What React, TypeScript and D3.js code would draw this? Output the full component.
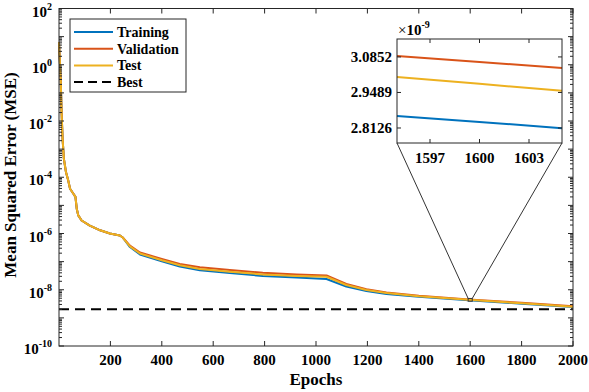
import React from 'react';
import * as d3 from 'd3';

// training record
const epochs = [0, 7, 10, 14, 19, 27, 36, 43, 56, 64, 69, 75, 88, 120, 160, 198, 237, 248, 276, 315, 400, 470, 548, 665, 793, 925, 1041, 1118, 1196, 1274, 1400, 1594, 1800, 2000];
const trainMse = [6.3, 0.24, 0.021, 2.3e-3, 4.5e-4, 1.55e-4, 7.6e-5, 3.9e-5, 2.6e-5, 2.0e-5, 7.6e-6, 4.4e-6, 2.9e-6, 1.9e-6, 1.3e-6, 1.0e-6, 8.5e-7, 7.2e-7, 3.3e-7, 1.8e-7, 1.02e-7, 6.7e-8, 4.9e-8, 3.9e-8, 3.1e-8, 2.7e-8, 2.4e-8, 1.3e-8, 9.0e-9, 7.1e-9, 5.6e-9, 4.2e-9, 3.2e-9, 2.45e-9];
const validMse = [6.3, 0.24, 0.021, 2.3e-3, 4.5e-4, 1.55e-4, 7.6e-5, 3.9e-5, 2.6e-5, 2.0e-5, 7.6e-6, 4.4e-6, 2.9e-6, 1.9e-6, 1.3e-6, 1.0e-6, 8.5e-7, 7.2e-7, 3.7e-7, 2.1e-7, 1.25e-7, 8.3e-8, 6.3e-8, 5.0e-8, 4.0e-8, 3.5e-8, 3.2e-8, 1.6e-8, 1.05e-8, 8.0e-9, 6.1e-9, 4.5e-9, 3.45e-9, 2.6e-9];
const testMse = [6.3, 0.24, 0.021, 2.3e-3, 4.5e-4, 1.55e-4, 7.6e-5, 3.9e-5, 2.6e-5, 2.0e-5, 7.6e-6, 4.4e-6, 2.9e-6, 1.9e-6, 1.3e-6, 1.0e-6, 8.5e-7, 7.2e-7, 3.5e-7, 1.95e-7, 1.12e-7, 7.4e-8, 5.5e-8, 4.4e-8, 3.5e-8, 3.1e-8, 2.9e-8, 1.48e-8, 9.8e-9, 7.6e-9, 5.9e-9, 4.4e-9, 3.3e-9, 2.5e-9];
const bestMse = 2.04e-9;

const xTicks = [200, 400, 600, 800, 1000, 1200, 1400, 1600, 1800, 2000];
const yLabelExps = [2, 0, -2, -4, -6, -8, -10];

// zoomed inset around epoch 1600
const insetEpochs = [1595, 1600, 1605];
const insetTrain = [2.859e-9, 2.836e-9, 2.812e-9];
const insetValid = [3.089e-9, 3.066e-9, 3.043e-9];
const insetTest = [3.008e-9, 2.982e-9, 2.955e-9];
const insetXTicks = [1597, 1600, 1603];
const insetYTicks = [2.8126e-9, 2.9489e-9, 3.0852e-9];
const insetXDomain = [1595, 1605];
const insetYDomain = [2.755e-9, 3.154e-9];
const markEpochs = [1592, 1608];
const markMse = [3.9e-9, 4.9e-9];

const series = [
  { name: 'Training', values: trainMse, inset: insetTrain, color: '#0072BD' },
  { name: 'Validation', values: validMse, inset: insetValid, color: '#D95319' },
  { name: 'Test', values: testMse, inset: insetTest, color: '#EDB120' },
];

const FONT = "'Liberation Serif', 'Times New Roman', serif";
const AX = '#262626';

export default function App() {
  const W = 589, H = 392;
  const m = { left: 59, right: 573, top: 8.5, bottom: 346 };

  const x = d3.scaleLinear().domain([0, 2000]).range([m.left, m.right]);
  const y = d3.scaleLog().domain([1e-10, 1e2]).range([m.bottom, m.top]);

  const line = d3.line<number>()
    .x((_, i) => x(epochs[i]))
    .y(d => y(d));

  // log minor ticks
  const minor: number[] = [];
  for (let e = -10; e < 2; e++) for (let k = 2; k <= 9; k++) minor.push(k * Math.pow(10, e));
  const major = d3.range(-10, 3).map(e => Math.pow(10, e));

  // inset
  const ib = { left: 397, right: 562, top: 39, bottom: 143 };
  const ix = d3.scaleLinear().domain(insetXDomain).range([ib.left, ib.right]);
  const iy = d3.scaleLinear().domain(insetYDomain).range([ib.bottom, ib.top]);
  const iline = d3.line<number>()
    .x((_, i) => ix(insetEpochs[i]))
    .y(d => iy(d));

  const mx0 = x(markEpochs[0]), mx1 = x(markEpochs[1]);
  const my0 = y(markMse[1]), my1 = y(markMse[0]);

  const legendItems = [...series.map(s => ({ name: s.name, color: s.color, dash: undefined as string | undefined })),
    { name: 'Best', color: '#000', dash: '9,5' }];

  return (
    <svg width={W} height={H} style={{ position: 'absolute', left: 0, top: 0, background: '#fff' }}>
      <rect x={0} y={0} width={W} height={H} fill="#fff" />
      <g style={{ fontFamily: FONT, fontWeight: 'bold' }}>

      {/* curves */}
      {series.map(s => (
        <path key={s.name} d={line(s.values) || ''} fill="none" stroke={s.color} strokeWidth={2} strokeLinejoin="round" />
      ))}
      <line x1={m.left} x2={m.right} y1={y(bestMse)} y2={y(bestMse)} stroke="#000" strokeWidth={2} strokeDasharray="10,6" />

      {/* axes box */}
      <rect x={m.left} y={m.top} width={m.right - m.left} height={m.bottom - m.top} fill="none" stroke={AX} strokeWidth={1} />
      {xTicks.map(t => (
        <g key={t}>
          <line x1={x(t)} x2={x(t)} y1={m.bottom} y2={m.bottom - 5} stroke={AX} />
          <line x1={x(t)} x2={x(t)} y1={m.top} y2={m.top + 5} stroke={AX} />
          <text x={x(t)} y={m.bottom + 19} textAnchor="middle" fontSize={15} fill="#000">{t}</text>
        </g>
      ))}
      {major.map((v, i) => (
        <g key={'M' + i}>
          <line x1={m.left} x2={m.left + 5} y1={y(v)} y2={y(v)} stroke={AX} />
          <line x1={m.right} x2={m.right - 5} y1={y(v)} y2={y(v)} stroke={AX} />
        </g>
      ))}
      {minor.map((v, i) => (
        <g key={'m' + i}>
          <line x1={m.left} x2={m.left + 3} y1={y(v)} y2={y(v)} stroke={AX} />
          <line x1={m.right} x2={m.right - 3} y1={y(v)} y2={y(v)} stroke={AX} />
        </g>
      ))}
      {yLabelExps.map(e => (
        <text key={e} x={52} y={y(Math.pow(10, e)) + 8} textAnchor="end" fontSize={15} fill="#000">
          10<tspan dy={-7} fontSize={10}>{e}</tspan>
        </text>
      ))}
      <text x={(m.left + m.right) / 2} y={385} textAnchor="middle" fontSize={17} fill="#000">Epochs</text>
      <text transform="translate(16,175) rotate(-90)" textAnchor="middle" fontSize={17} fill="#000">
        Mean Squared Error (MSE)
      </text>

      {/* zoom marker and connectors */}
      <rect x={mx0} y={my0} width={mx1 - mx0} height={my1 - my0} fill="none" stroke="#333" strokeWidth={1} />
      <line x1={ib.left} y1={ib.bottom} x2={mx0} y2={my0} stroke="#333" strokeWidth={1} />
      <line x1={ib.right} y1={ib.bottom} x2={mx1} y2={my0} stroke="#333" strokeWidth={1} />

      {/* inset */}
      <rect x={ib.left} y={ib.top} width={ib.right - ib.left} height={ib.bottom - ib.top} fill="#fff" />
      {series.map(s => (
        <path key={'i' + s.name} d={iline(s.inset) || ''} fill="none" stroke={s.color} strokeWidth={2} />
      ))}
      <rect x={ib.left} y={ib.top} width={ib.right - ib.left} height={ib.bottom - ib.top} fill="none" stroke={AX} strokeWidth={1} />
      {insetXTicks.map(t => (
        <g key={'ix' + t}>
          <line x1={ix(t)} x2={ix(t)} y1={ib.bottom} y2={ib.bottom - 4} stroke={AX} />
          <line x1={ix(t)} x2={ix(t)} y1={ib.top} y2={ib.top + 4} stroke={AX} />
          <text x={ix(t)} y={ib.bottom + 20} textAnchor="middle" fontSize={15} fill="#000">{t}</text>
        </g>
      ))}
      {insetYTicks.map(t => (
        <g key={'iy' + t}>
          <line x1={ib.left} x2={ib.left + 4} y1={iy(t)} y2={iy(t)} stroke={AX} />
          <line x1={ib.right} x2={ib.right - 4} y1={iy(t)} y2={iy(t)} stroke={AX} />
          <text x={ib.left - 5} y={iy(t) + 5} textAnchor="end" fontSize={15} fill="#000">{(t * 1e9).toFixed(4)}</text>
        </g>
      ))}
      <text x={ib.left + 1} y={ib.top - 4} fontSize={15} fill="#000">
        <tspan fontWeight="normal">×</tspan>10<tspan dy={-7} fontSize={10}>-9</tspan>
      </text>

      {/* legend */}
      <rect x={70} y={19} width={116} height={73} fill="#fff" stroke={AX} strokeWidth={1} />
      {legendItems.map((it, i) => {
        const ly = 32 + i * 16.7;
        return (
          <g key={it.name}>
            <line x1={74} x2={113} y1={ly} y2={ly} stroke={it.color} strokeWidth={2} strokeDasharray={it.dash} />
            <text x={117} y={ly + 5} fontSize={14} fill="#000">{it.name}</text>
          </g>
        );
      })}
      </g>
    </svg>
  );
}
